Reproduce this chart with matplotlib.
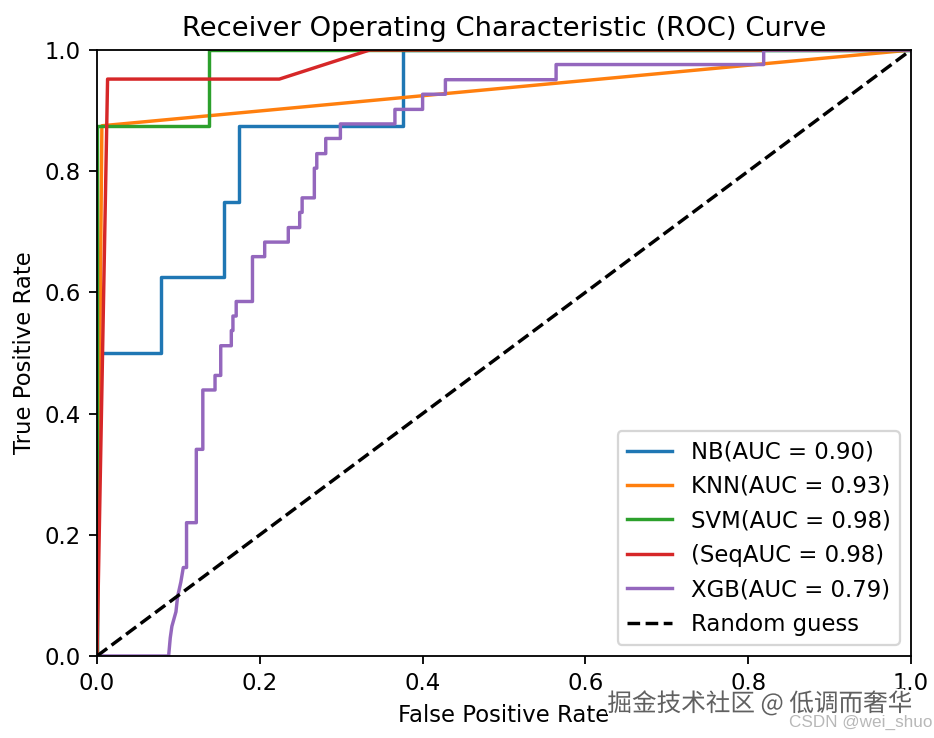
import matplotlib
matplotlib.use("Agg")
import matplotlib.pyplot as plt
import matplotlib.patheffects as pe

# Curvas ROC (fpr, tpr)
nb_fpr = [0.0, 0.0, 0.079, 0.079, 0.156, 0.156, 0.175, 0.175, 0.376, 0.376, 1.0]
nb_tpr = [0.0, 0.5, 0.5, 0.625, 0.625, 0.75, 0.75, 0.875, 0.875, 1.0, 1.0]

knn_fpr = [0.0, 0.006, 1.0]
knn_tpr = [0.0, 0.875, 1.0]

svm_fpr = [0.0, 0.0, 0.137, 0.137, 1.0]
svm_tpr = [0.0, 0.875, 0.875, 1.0, 1.0]

seq_fpr = [0.0, 0.013, 0.224, 0.335, 1.0]
seq_tpr = [0.0, 0.952, 0.952, 1.0, 1.0]

xgb_fpr = [0.0, 0.088, 0.090, 0.092, 0.097, 0.099, 0.103, 0.106, 0.110, 0.110,
           0.122, 0.122, 0.130, 0.130, 0.145, 0.145, 0.152, 0.152, 0.165, 0.165,
           0.167, 0.167, 0.171, 0.171, 0.191, 0.191, 0.206, 0.206, 0.235, 0.235,
           0.249, 0.249, 0.252, 0.252, 0.267, 0.267, 0.270, 0.270, 0.281, 0.281,
           0.299, 0.299, 0.366, 0.366, 0.400, 0.400, 0.428, 0.428, 0.564, 0.564,
           0.819, 0.819, 1.0]
xgb_tpr = [0.0, 0.0, 0.030, 0.049, 0.073, 0.098, 0.122, 0.146, 0.146, 0.220,
           0.220, 0.341, 0.341, 0.439, 0.439, 0.463, 0.463, 0.512, 0.512, 0.537,
           0.537, 0.561, 0.561, 0.585, 0.585, 0.659, 0.659, 0.683, 0.683, 0.707,
           0.707, 0.732, 0.732, 0.756, 0.756, 0.805, 0.805, 0.829, 0.829, 0.854,
           0.854, 0.878, 0.878, 0.902, 0.902, 0.927, 0.927, 0.951, 0.951, 0.976,
           0.976, 1.0, 1.0]

labels = ["NB(AUC = 0.90)", "KNN(AUC = 0.93)", "SVM(AUC = 0.98)",
          "(SeqAUC = 0.98)", "XGB(AUC = 0.79)"]

curves = [(nb_fpr, nb_tpr), (knn_fpr, knn_tpr), (svm_fpr, svm_tpr),
          (seq_fpr, seq_tpr), (xgb_fpr, xgb_tpr)]

fig = plt.figure(figsize=(934 / 164, 738 / 164), dpi=164)
ax = fig.add_axes([97 / 934, 82 / 738, 814 / 934, 606 / 738])

for (fpr, tpr), lab in zip(curves, labels):
    ax.plot(fpr, tpr, label=lab)

ax.plot([0, 1], [0, 1], "k--", label="Random guess")

ax.set_xlim(0, 1)
ax.set_ylim(0, 1)
ax.set_xlabel("False Positive Rate")
ax.set_ylabel("True Positive Rate")
ax.set_title("Receiver Operating Characteristic (ROC) Curve")
ax.legend(loc="lower right")

# marcas de agua
fig.text(0.977, 0.046, "掘金技术社区 @ 低调而奢华", ha="right", va="center",
         fontsize=10.8, color="#606060", family=["Noto Sans CJK SC", "DejaVu Sans"],
         path_effects=[pe.withStroke(linewidth=2, foreground="white")])
fig.text(0.998, 0.021, "CSDN @wei_shuo", ha="right", va="center",
         fontsize=7.5, color="#b8b8b8", family="Liberation Sans")

fig.savefig("out.png", dpi=164)
